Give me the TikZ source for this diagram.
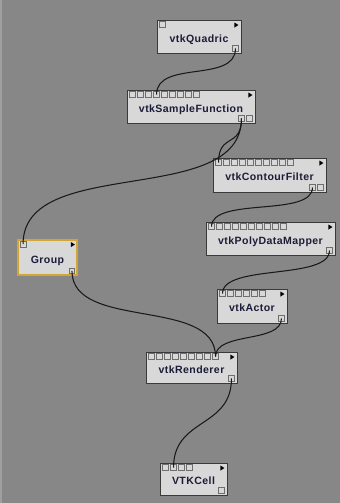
\documentclass[tikz,border=0pt]{standalone}
\usepackage{fontspec}
\usetikzlibrary{calc}
\newfontfamily\modfont{Liberation Sans}[LetterSpace=4]
\definecolor{bggray}{HTML}{878787}
\definecolor{boxgray}{HTML}{D8D8D8}
\definecolor{edgegray}{HTML}{3A3A3A}
\definecolor{portgray}{HTML}{6E6E6E}
\definecolor{labelblue}{HTML}{1C1C38}
\definecolor{groupgold}{HTML}{D2A534}
\tikzset{
  module/.style={draw=edgegray, fill=boxgray, line width=0.8pt, inner sep=0pt,
    text height=10pt, text depth=0pt, text=labelblue,
    font=\modfont\bfseries\fontsize{9}{10}\selectfont},
  groupbox/.style={module, draw=groupgold, line width=1.6pt},
  port/.style={draw=portgray, fill=boxgray, line width=0.5pt, inner sep=0pt,
    minimum size=5.5*0.03cm},
  play/.style={fill=black},
  wire/.style={draw=black!90, line width=0.9pt}
}
\begin{document}
\begin{tikzpicture}[x=0.03cm, y=-0.03cm]
  \useasboundingbox (0,0) rectangle (340,503);
  \fill[bggray] (0,0) rectangle (340,503);
  \fill[bggray!80!white] (0,0) rectangle (1.5,503);

  % modules: name / left / top / right / bottom / inputs / outputs / style / label
  \foreach \n/\xa/\ya/\xb/\yb/\ni/\no/\s/\t in {
      quad/157/20/241/53/1/1/module/vtkQuadric,
      sf/127/90/255/123/9/2/module/vtkSampleFunction,
      ct/213/158/326/192/10/2/module/vtkContourFilter,
      grp/18/240/77/275/1/1/groupbox/Group,
      mp/206/222/335/255/10/1/module/vtkPolyDataMapper,
      ac/217/289/287/323/6/1/module/vtkActor,
      rd/146/352/237/383/9/1/module/vtkRenderer,
      cell/160/463/227/495/4/1/module/VTKCell}
  {
    \node[\s, minimum width={(\xb-\xa)*0.03cm}, minimum height={(\yb-\ya)*0.03cm}]
      (\n) at ({(\xa+\xb)/2},{(\ya+\yb)/2}) {\t};
    \foreach \i in {1,...,\ni}
      \node[port] (\n-in\i) at ($(\n.north west)+({6+8*(\i-1)},5)$) {};
    \foreach \j in {1,...,\no}
      \node[port] (\n-out\j) at ($(\n.south east)+({-6-8*(\no-\j)},-5)$) {};
    \fill[play] ($(\n.north east)+(-7,3)$) -- ++(4,2.5) -- ++(-4,2.5) -- cycle;
  }

  % connections
  \draw[wire] (quad-out1.center) .. controls +(0,35) and +(0,-35) .. (sf-in4.center);
  \draw[wire] (sf-out1.center) .. controls +(0,30) and +(0,-30) .. (ct-in1.center);
  \draw[wire] (sf-out1.center) .. controls +(0,90) and +(0,-90) .. (grp-in1.center);
  \draw[wire] (ct-out1.center) .. controls +(0,30) and +(0,-30) .. (mp-in1.center);
  \draw[wire] (mp-out1.center) .. controls +(0,30) and +(0,-30) .. (ac-in1.center);
  \draw[wire] (ac-out1.center) .. controls +(0,25) and +(0,-25) .. (rd-in9.center);
  \draw[wire] (grp-out1.center) .. controls +(0,60) and +(0,-60) .. (rd-in9.center);
  \draw[wire] (rd-out1.center) .. controls +(0,50) and +(0,-50) .. (cell-in2.center);
\end{tikzpicture}
\end{document}
